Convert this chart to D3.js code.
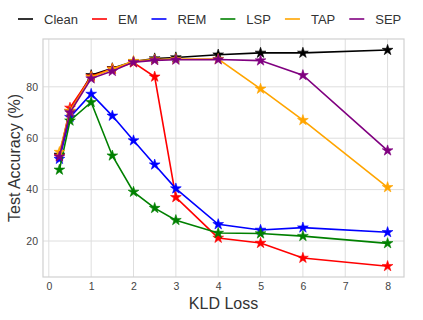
<!DOCTYPE html>
<html>
<head>
<meta charset="utf-8">
<script src="https://cdn.jsdelivr.net/npm/d3@7"></script>
<style>
  body { margin: 0; background: #fff; }
  svg text { font-family: "Liberation Sans", Arial, sans-serif; }
</style>
</head>
<body>
<div id="main"><svg width="423" height="320"></svg></div>
<script>
// KLD loss values (x axis)
var kld = [0.25, 0.5, 1, 1.5, 2, 2.5, 3, 4, 5, 6, 8]

var clean = [53.5, 70.5, 84.5, 87.2, 89.8, 91.0, 91.4, 92.5, 93.2, 93.2, 94.3]
var em    = [53.0, 71.8, 84.0, 87.0, 89.4, 83.9, 37.0, 21.2, 19.2, 13.4, 10.2]
var rem   = [51.9, 68.2, 77.2, 68.7, 59.1, 49.7, 40.4, 26.5, 24.3, 25.2, 23.4]
var lsp   = [47.7, 66.8, 74.0, 53.2, 39.1, 32.8, 28.1, 23.1, 22.9, 21.9, 19.1]
var tap   = [54.6, 70.6, 83.8, 86.9, 90.0, 90.6, 90.8, 90.8, 79.2, 67.0, 40.9]
var sep   = [52.8, 70.0, 83.2, 86.1, 89.6, 90.3, 90.5, 90.6, 90.2, 84.5, 55.2]

var seriesNames = ['Clean', 'EM', 'REM', 'LSP', 'TAP', 'SEP']
var seriesValues = [clean, em, rem, lsp, tap, sep]
var seriesColors = ['#000000', '#ff0000', '#0000ff', '#008000', '#ffa500', '#800080']

var xTicks = [0, 1, 2, 3, 4, 5, 6, 7, 8]
var yTicks = [20, 40, 60, 80]

var config = {
  left: 43,
  right: 404,
  top: 39,
  bottom: 277
}

var svg = d3.select('#main svg')

var x = d3.scaleLinear()
    .domain([-0.1375, 8.3875])
    .range([config.left, config.right])

var y = d3.scaleLinear()
    .domain([6.0, 98.6])
    .range([config.bottom, config.top])

// grid
var grid = svg.append('g').attr('class', 'grid')

grid.selectAll('line.gx')
  .data(xTicks)
  .enter()
  .append('line')
    .attr('x1', d => x(d))
    .attr('x2', d => x(d))
    .attr('y1', config.top)
    .attr('y2', config.bottom)
    .attr('stroke', '#dedede')
    .attr('stroke-width', 1)

grid.selectAll('line.gy')
  .data(yTicks)
  .enter()
  .append('line')
    .attr('x1', config.left)
    .attr('x2', config.right)
    .attr('y1', d => y(d))
    .attr('y2', d => y(d))
    .attr('stroke', '#dedede')
    .attr('stroke-width', 1)

svg.append('rect')
    .attr('x', config.left)
    .attr('y', config.top)
    .attr('width', config.right - config.left)
    .attr('height', config.bottom - config.top)
    .attr('fill', 'none')
    .attr('stroke', '#d0d0d0')
    .attr('stroke-width', 1.2)

// axes (tick labels only)
var xAxis = svg.append('g')
    .attr('transform', `translate(0, ${config.bottom})`)
    .call(d3.axisBottom(x).tickValues(xTicks).tickSize(0).tickPadding(6))
xAxis.select('.domain').remove()
xAxis.selectAll('text')
    .attr('fill', '#444')
    .style('font-size', '10.5px')

var yAxis = svg.append('g')
    .attr('transform', `translate(${config.left}, 0)`)
    .call(d3.axisLeft(y).tickValues(yTicks).tickSize(0).tickPadding(5))
yAxis.select('.domain').remove()
yAxis.selectAll('text')
    .attr('fill', '#444')
    .style('font-size', '10.5px')

svg.append('text')
    .attr('x', (config.left + config.right) / 2)
    .attr('y', 309)
    .attr('text-anchor', 'middle')
    .attr('fill', '#333')
    .style('font-size', '16px')
    .text('KLD Loss')

svg.append('text')
    .attr('transform', `translate(20, ${(config.top + config.bottom) / 2}) rotate(-90)`)
    .attr('text-anchor', 'middle')
    .attr('fill', '#333')
    .style('font-size', '16px')
    .text('Test Accuracy (%)')

// series
var line = d3.line()
    .x((d, i) => x(kld[i]))
    .y(d => y(d))

var star = d3.symbol().type(d3.symbolStar).size(36)

seriesValues.forEach(function (vals, s) {
  var g = svg.append('g').attr('class', 'series')
  g.append('path')
      .attr('d', line(vals))
      .attr('fill', 'none')
      .attr('stroke', seriesColors[s])
      .attr('stroke-width', 1.6)
  g.selectAll('path.mark')
    .data(vals)
    .enter()
    .append('path')
      .attr('class', 'mark')
      .attr('d', star)
      .attr('transform', (d, i) => `translate(${x(kld[i])}, ${y(d)})`)
      .attr('fill', seriesColors[s])
      .attr('stroke', seriesColors[s])
      .attr('stroke-width', 0.6)
})

// legend along the top
var legend = svg.append('g').attr('class', 'legend')
var lx = 18
seriesNames.forEach(function (name, s) {
  legend.append('line')
      .attr('x1', lx)
      .attr('x2', lx + 15)
      .attr('y1', 19)
      .attr('y2', 19)
      .attr('stroke', seriesColors[s])
      .attr('stroke-width', 1.6)
  var t = legend.append('text')
      .attr('x', lx + 26)
      .attr('y', 23.5)
      .attr('fill', '#333')
      .style('font-size', '13px')
      .text(name)
  lx += 26 + t.node().getComputedTextLength() + 14
})
</script>
</body>
</html>
